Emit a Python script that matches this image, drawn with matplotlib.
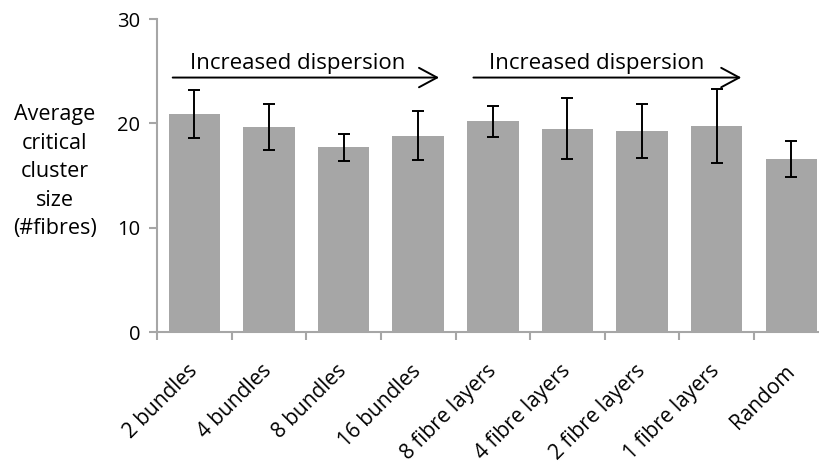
import numpy as np
import matplotlib
matplotlib.use("Agg")
import matplotlib.pyplot as plt

plt.rcParams['font.family'] = ['Open Sans', 'DejaVu Sans']

# critical cluster size per fibre arrangement
categories = ['2 bundles', '4 bundles', '8 bundles', '16 bundles',
              '8 fibre layers', '4 fibre layers', '2 fibre layers',
              '1 fibre layers', 'Random']
means = [20.9, 19.7, 17.7, 18.8, 20.2, 19.5, 19.3, 19.8, 16.6]
errors = [2.3, 2.2, 1.3, 2.35, 1.5, 2.9, 2.6, 3.55, 1.7]

grey = '#a6a6a6'

fig = plt.figure(figsize=(8.2, 4.67), dpi=100)
ax = fig.add_axes([0.1915, 0.289, 0.819, 0.670])

x = np.arange(len(categories))
ax.bar(x, means, width=0.69, color=grey, zorder=1)
ax.errorbar(x, means, yerr=errors, fmt='none', ecolor='black',
            elinewidth=1.4, capsize=4.5, capthick=1.4, zorder=2)

ax.set_xlim(-0.5, len(categories) - 0.5)
ax.set_ylim(0, 30)
ax.set_yticks([0, 10, 20, 30])

# labels sit at bar centres, tick marks between the bars
ax.set_xticks(x)
ax.set_xticklabels(categories, rotation=45, ha='right', va='center',
                   rotation_mode='anchor', fontsize=15)
ax.set_xticks(np.arange(len(categories) + 1) - 0.5, minor=True)
ax.tick_params(axis='x', which='major', length=0, pad=26)
ax.tick_params(axis='x', which='minor', length=6, width=1.5, color=grey)
ax.tick_params(axis='y', length=6, width=1.5, color=grey, labelsize=14.5, pad=6)

for side in ['top', 'right']:
    ax.spines[side].set_visible(False)
for side in ['left', 'bottom']:
    ax.spines[side].set_color(grey)
    ax.spines[side].set_linewidth(1.5)

fig.text(0.067, 0.632, 'Average\ncritical\ncluster\nsize\n(#fibres)',
         ha='center', va='center', fontsize=15.5, linespacing=1.47)

# dispersion arrows over the two groups
for x0, x1, tx in [(-0.29, 3.28, -0.06), (3.74, 7.33, 3.95)]:
    ax.annotate('', xy=(x1, 24.4), xytext=(x0, 24.4),
                arrowprops=dict(arrowstyle='->,head_length=1.3,head_width=0.7',
                                color='black', lw=1.4, shrinkA=0, shrinkB=0))
    ax.text(tx, 24.75, 'Increased dispersion', ha='left', va='bottom',
            fontsize=16)

fig.savefig('out.png', dpi=100)
